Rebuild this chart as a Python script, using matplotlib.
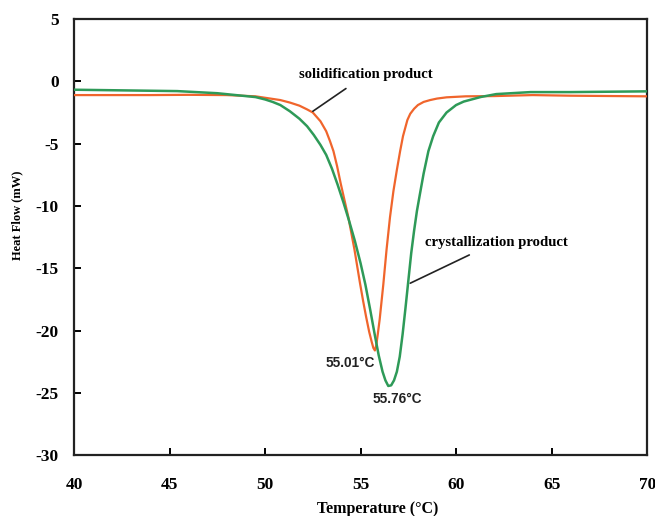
import matplotlib.pyplot as plt

plt.rcParams['axes.unicode_minus'] = False

# DSC curves
solid_T = [40, 44, 46, 48, 49.5, 50.8, 51.3, 51.8, 52.2, 52.5, 52.9, 53.2,
           53.4, 53.58, 53.77, 53.96, 54.16, 54.36, 54.52, 54.68, 54.83,
           54.97, 55.13, 55.29, 55.45, 55.58, 55.67, 55.75, 55.82, 55.9,
           56.0, 56.19, 56.36, 56.54, 56.72, 56.9, 57.07, 57.22, 57.45, 57.6,
           57.8, 58.0, 58.3, 58.64, 59.0, 59.5, 60.5, 62, 64, 66, 70]
solid_HF = [-1.1, -1.1, -1.08, -1.1, -1.2, -1.5, -1.7, -1.95, -2.25, -2.5,
            -3.2, -4.0, -4.8, -5.6, -6.8, -8.2, -9.55, -10.9, -12.2, -13.5,
            -14.9, -16.2, -17.6, -18.9, -20.1, -20.9, -21.4, -21.6, -21.2,
            -20.3, -19.1, -16.3, -13.5, -10.9, -8.8, -7.1, -5.6, -4.4, -3.1,
            -2.6, -2.2, -1.9, -1.65, -1.5, -1.38, -1.28, -1.2, -1.18, -1.1,
            -1.15, -1.2]

cryst_T = [40, 45.4, 47.5, 49.5, 50.0, 50.4, 50.8, 51.3, 51.8, 52.2, 52.55,
           52.9, 53.2, 53.5, 53.8, 54.1, 54.4, 54.7, 55.0, 55.25, 55.5, 55.75,
           55.95, 56.15, 56.3, 56.45, 56.6, 56.75, 56.9, 57.05, 57.2, 57.35,
           57.5, 57.65, 57.8, 57.95, 58.1, 58.3, 58.55, 58.8, 59.1, 59.5,
           60.0, 60.4, 61.3, 62.1, 63.9, 66, 70]
cryst_HF = [-0.67, -0.78, -0.95, -1.26, -1.45, -1.65, -1.9, -2.4, -3.0, -3.6,
            -4.3, -5.1, -5.9, -7.0, -8.3, -9.7, -11.2, -12.8, -14.6, -16.3,
            -18.3, -20.4, -22.0, -23.3, -24.0, -24.45, -24.4, -24.0, -23.3,
            -22.1, -20.3, -18.2, -16.0, -13.8, -12.0, -10.4, -9.1, -7.4,
            -5.6, -4.4, -3.3, -2.5, -1.9, -1.62, -1.25, -1.02, -0.86, -0.86,
            -0.8]

x_ticks = [40, 45, 50, 55, 60, 65, 70]
y_ticks = [-30, -25, -20, -15, -10, -5, 0, 5]

fig = plt.figure(figsize=(6.55, 5.16), dpi=100)
ax = fig.add_axes([0.113, 0.118, 0.875, 0.845])

orange = '#f0652c'
green = '#2e9a58'
ax.plot(solid_T, solid_HF, color=orange, lw=1.6, zorder=3)
ax.plot(cryst_T, cryst_HF, color=green, lw=1.8, zorder=4)

ax.set_xlim(40, 70)
ax.set_ylim(-30, 5)
ax.set_xticks(x_ticks)
ax.set_yticks(y_ticks)

serif = 'Liberation Serif'
for lab in ax.get_xticklabels() + ax.get_yticklabels():
    lab.set_fontfamily(serif)
    lab.set_fontweight('bold')
    lab.set_fontsize(12.5)

ax.tick_params(direction='in', length=5, width=1.4, top=False, right=False)
ax.tick_params(axis='x', pad=16)
ax.tick_params(axis='y', pad=11)
for sp in ax.spines.values():
    sp.set_linewidth(1.6)
    sp.set_color('#222222')

ax.set_xlabel('Temperature (°C)', fontfamily=serif, fontweight='bold', fontsize=11.5)
ax.xaxis.set_label_coords(0.53, -0.105)
ax.set_ylabel('Heat Flow (mW)', fontfamily=serif, fontweight='bold', fontsize=9)
ax.yaxis.set_label_coords(-0.089, 0.55)

# curve labels with leader lines
ax.annotate('solidification product', xy=(52.5, -2.4), xytext=(55.3, 0.55),
            fontfamily=serif, fontweight='bold', fontsize=10.5, ha='center', va='center',
            arrowprops=dict(arrowstyle='-', color='#222222', lw=1.2,
                            shrinkA=6, shrinkB=0))
ax.annotate('crystallization product', xy=(57.6, -16.2), xytext=(62.1, -12.9),
            fontfamily=serif, fontweight='bold', fontsize=10.6, ha='center', va='center',
            arrowprops=dict(arrowstyle='-', color='#222222', lw=1.2,
                            shrinkA=6, shrinkB=0))

ax.text(54.45, -22.6, '55.01°C', fontfamily='Liberation Sans', fontweight='bold',
        fontsize=9.8, ha='center', va='center', color='#222222')
ax.text(56.9, -25.5, '55.76°C', fontfamily='Liberation Sans', fontweight='bold',
        fontsize=9.8, ha='center', va='center', color='#222222')

fig.savefig('out.png', dpi=100)
